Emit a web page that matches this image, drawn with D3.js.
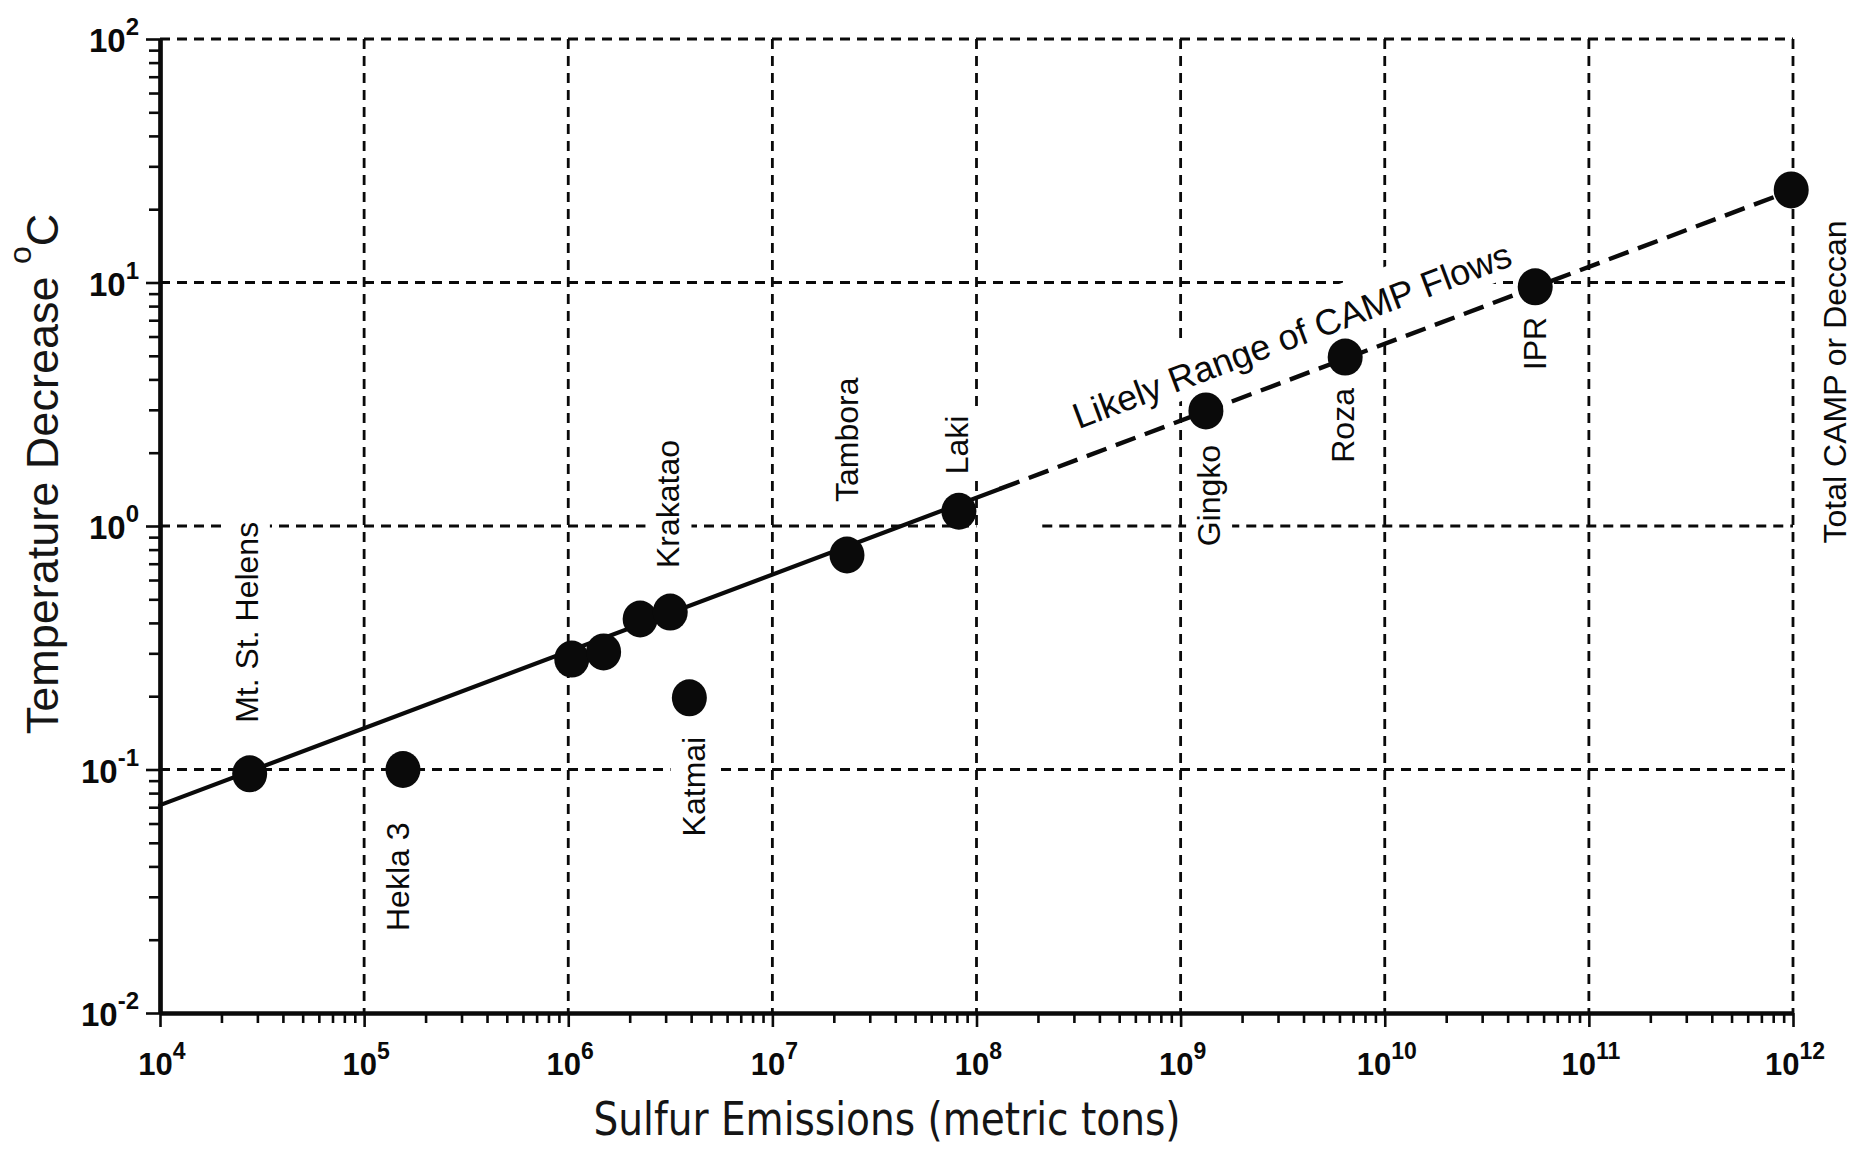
<!DOCTYPE html>
<html><head><meta charset="utf-8">
<script src="https://cdn.jsdelivr.net/npm/d3@7"></script>
<style>
html,body{margin:0;padding:0;background:#fff;}
svg{display:block;}
</style></head><body>
<svg id="chart" width="1864" height="1153"></svg>
<script>
// Volcanic eruptions and flood-basalt provinces: sulfur released vs. global cooling
const eruptions = ["Mt. St. Helens", "Hekla 3", "", "", "", "Krakatao", "Katmai", "Tambora", "Laki", "Gingko", "Roza", "IPR", "Total CAMP or Deccan"];
const sulfurTons = [2.75e4, 1.55e5, 1.04e6, 1.49e6, 2.25e6, 3.16e6, 3.92e6, 2.32e7, 8.2e7, 1.33e9, 6.4e9, 5.46e10, 9.8e11];
const coolingC = [0.096, 0.100, 0.284, 0.304, 0.415, 0.443, 0.197, 0.76, 1.15, 2.97, 4.94, 9.6, 24];

// Fitted trend: observed eruptions (solid) and extrapolation to flood basalts (dashed)
const trendObserved = [[1e4, 0.0714], [1.3e8, 1.42]];
const trendExtrapolated = [[1.3e8, 1.42], [1e12, 24]];

const xTickExponents = [4, 5, 6, 7, 8, 9, 10, 11, 12];
const yTickExponents = [-2, -1, 0, 1, 2];
const xGridValues = [1e5, 1e6, 1e7, 1e8, 1e9, 1e10, 1e11, 1e12];
const yGridValues = [1e-1, 1e0, 1e1, 1e2];
const yGridBreaks = [{ at: 1e0, from: 1e8, to: 2.1e8 }];

const rangeLabel = "Likely Range of CAMP Flows";
const xTitle = "Sulfur Emissions (metric tons)";
const yTitle = "Temperature Decrease ";

// Where each eruption name sits relative to its marker (pixels)
const labelPlacement = {
  "Mt. St. Helens": { side: "above", gap: 51, dx: -3 },
  "Hekla 3": { side: "below", gap: 53, dx: -5 },
  "Krakatao": { side: "above", gap: 44, dx: -2 },
  "Katmai": { side: "below", gap: 39, dx: 4 },
  "Tambora": { side: "above", gap: 53, dx: 0 },
  "Laki": { side: "above", gap: 37, dx: -2 },
  "Gingko": { side: "below", gap: 34, dx: 3 },
  "Roza": { side: "below", gap: 31, dx: -2 },
  "IPR": { side: "below", gap: 30, dx: 0 },
  "Total CAMP or Deccan": { side: "middle", dx: 44, dy: 192 }
};

const svg = d3.select("#chart");
const W = 1864, H = 1153;
svg.append("rect").attr("width", W).attr("height", H).attr("fill", "#fff");

const x = d3.scaleLog().domain([1e4, 1e12]).range([160, 1793]);
const y = d3.scaleLog().domain([1e-2, 1e2]).range([1013, 39]);

const ink = "#0a0a0a";
const sans = "'Liberation Sans', Arial, Helvetica, sans-serif";

// ---- dashed grid ----
const grid = svg.append("g").attr("stroke", ink).attr("stroke-width", 2.8)
  .attr("stroke-dasharray", "10,7").attr("fill", "none");
xGridValues.forEach(v => {
  grid.append("line").attr("x1", x(v)).attr("x2", x(v)).attr("y1", y(1e2)).attr("y2", y(1e-2));
});
yGridValues.forEach(v => {
  const br = yGridBreaks.filter(b => b.at === v);
  let segs = [[1e4, 1e12]];
  br.forEach(b => {
    segs = segs.flatMap(([a, c]) => (b.from > a && b.to < c) ? [[a, b.from], [b.to, c]] : [[a, c]]);
  });
  segs.forEach(([a, c]) => {
    grid.append("line").attr("x1", x(a)).attr("x2", x(c)).attr("y1", y(v)).attr("y2", y(v));
  });
});

// ---- axes ----
const minorX = [], minorY = [];
xTickExponents.slice(0, -1).forEach(e => { for (let k = 2; k <= 9; k++) minorX.push(k * Math.pow(10, e)); });
yTickExponents.slice(0, -1).forEach(e => { for (let k = 2; k <= 9; k++) minorY.push(k * Math.pow(10, e)); });
const majorX = xTickExponents.map(e => Math.pow(10, e));
const majorY = yTickExponents.map(e => Math.pow(10, e));

function styleAxis(g) {
  g.select(".domain").attr("stroke", ink).attr("stroke-width", 4.2);
  g.selectAll(".tick line").attr("stroke", ink).attr("stroke-width", 2.6);
}
svg.append("g").attr("transform", `translate(0,${y(1e-2)})`)
  .call(d3.axisBottom(x).tickValues(minorX).tickSize(10).tickSizeOuter(0).tickFormat(""))
  .call(styleAxis);
svg.append("g").attr("transform", `translate(0,${y(1e-2)})`)
  .call(d3.axisBottom(x).tickValues(majorX).tickSize(14).tickSizeOuter(0).tickFormat(""))
  .call(styleAxis);
svg.append("g").attr("transform", `translate(${x(1e4)},0)`)
  .call(d3.axisLeft(y).tickValues(minorY).tickSize(11).tickSizeOuter(0).tickFormat(""))
  .call(styleAxis);
svg.append("g").attr("transform", `translate(${x(1e4)},0)`)
  .call(d3.axisLeft(y).tickValues(majorY).tickSize(14).tickSizeOuter(0).tickFormat(""))
  .call(styleAxis);

// power-of-ten tick labels
xTickExponents.forEach(e => {
  const t = svg.append("text").attr("x", x(Math.pow(10, e)) + 2).attr("y", 1075)
    .attr("text-anchor", "middle").attr("font-family", sans).attr("font-weight", "bold")
    .attr("font-size", 31).attr("fill", ink);
  t.append("tspan").text("10");
  t.append("tspan").attr("dy", -16).attr("font-size", 23).text(String(e));
});
yTickExponents.forEach(e => {
  const t = svg.append("text").attr("x", 139).attr("y", y(Math.pow(10, e)) + 13)
    .attr("text-anchor", "end").attr("font-family", sans).attr("font-weight", "bold")
    .attr("font-size", 33).attr("fill", ink);
  t.append("tspan").text("10");
  t.append("tspan").attr("dy", -17).attr("font-size", 24).text(String(e));
});

// axis titles
svg.append("text").attr("x", 887).attr("y", 1135).attr("text-anchor", "middle")
  .attr("font-family", "'DejaVu Sans Condensed', 'DejaVu Sans', sans-serif")
  .attr("font-stretch", "condensed").attr("font-size", 46).attr("fill", "#151515")
  .attr("textLength", 587).attr("lengthAdjust", "spacingAndGlyphs")
  .text(xTitle);
const yt = svg.append("text").attr("transform", "translate(58,474) rotate(-90)")
  .attr("text-anchor", "middle").attr("font-family", sans).attr("font-size", 45).attr("fill", "#151515");
yt.append("tspan").text(yTitle);
yt.append("tspan").attr("dy", -27).attr("font-size", 32).text("o");
yt.append("tspan").attr("dy", 27).text("C");

// ---- eruption labels (white backing knocks the grid out behind them) ----
const labels = svg.append("g");
eruptions.forEach((name, i) => {
  if (!name) return;
  const p = labelPlacement[name];
  const px = x(sulfurTons[i]), py = y(coolingC[i]);
  let ax, ay, anchor;
  if (p.side === "above") { ax = px + p.dx; ay = py - p.gap; anchor = "start"; }
  else if (p.side === "below") { ax = px + p.dx; ay = py + p.gap; anchor = "end"; }
  else { ax = px + p.dx; ay = py + p.dy; anchor = "middle"; }
  const g = labels.append("g").attr("transform", `translate(${ax},${ay}) rotate(-90)`);
  const bg = g.append("rect").attr("fill", "#fff");
  const t = g.append("text").attr("text-anchor", anchor).attr("dy", "0.35em")
    .attr("font-family", sans).attr("font-size", 32).attr("fill", ink).text(name);
  const b = t.node().getBBox();
  bg.attr("x", b.x - 6).attr("y", b.y - 5).attr("width", b.width + 12).attr("height", b.height + 10);
});

// label running along the extrapolated trend
{
  const [a, c] = trendExtrapolated;
  const ang = Math.atan2(y(a[1]) - y(c[1]), x(c[0]) - x(a[0])) * 180 / Math.PI;
  const slope = Math.log10(c[1] / a[1]) / Math.log10(c[0] / a[0]);
  const sx = Math.pow(10, 8.5);
  const sy = a[1] * Math.pow(sx / a[0], slope);
  const g = svg.append("g").attr("transform", `translate(${x(sx)},${y(sy) - 30}) rotate(${-ang})`);
  const bg = g.append("rect").attr("fill", "#fff");
  const t = g.append("text").attr("font-family", sans).attr("font-size", 36).attr("fill", ink).text(rangeLabel);
  const b = t.node().getBBox();
  bg.attr("x", b.x - 10).attr("y", b.y - 11).attr("width", b.width + 20).attr("height", b.height + 13);
}

// ---- trend lines ----
const line = d3.line().x(d => x(d[0])).y(d => y(d[1]));
svg.append("path").datum(trendObserved).attr("d", line).attr("fill", "none")
  .attr("stroke", ink).attr("stroke-width", 4.2).attr("stroke-linecap", "round");
svg.append("path").datum(trendExtrapolated).attr("d", line).attr("fill", "none")
  .attr("stroke", ink).attr("stroke-width", 4.4).attr("stroke-dasharray", "21,10");

// ---- markers ----
svg.append("g").selectAll("ellipse").data(sulfurTons).join("ellipse")
  .attr("cx", d => x(d)).attr("cy", (d, i) => y(coolingC[i]))
  .attr("rx", 17.5).attr("ry", 18.5).attr("fill", ink);
</script>
</body></html>
